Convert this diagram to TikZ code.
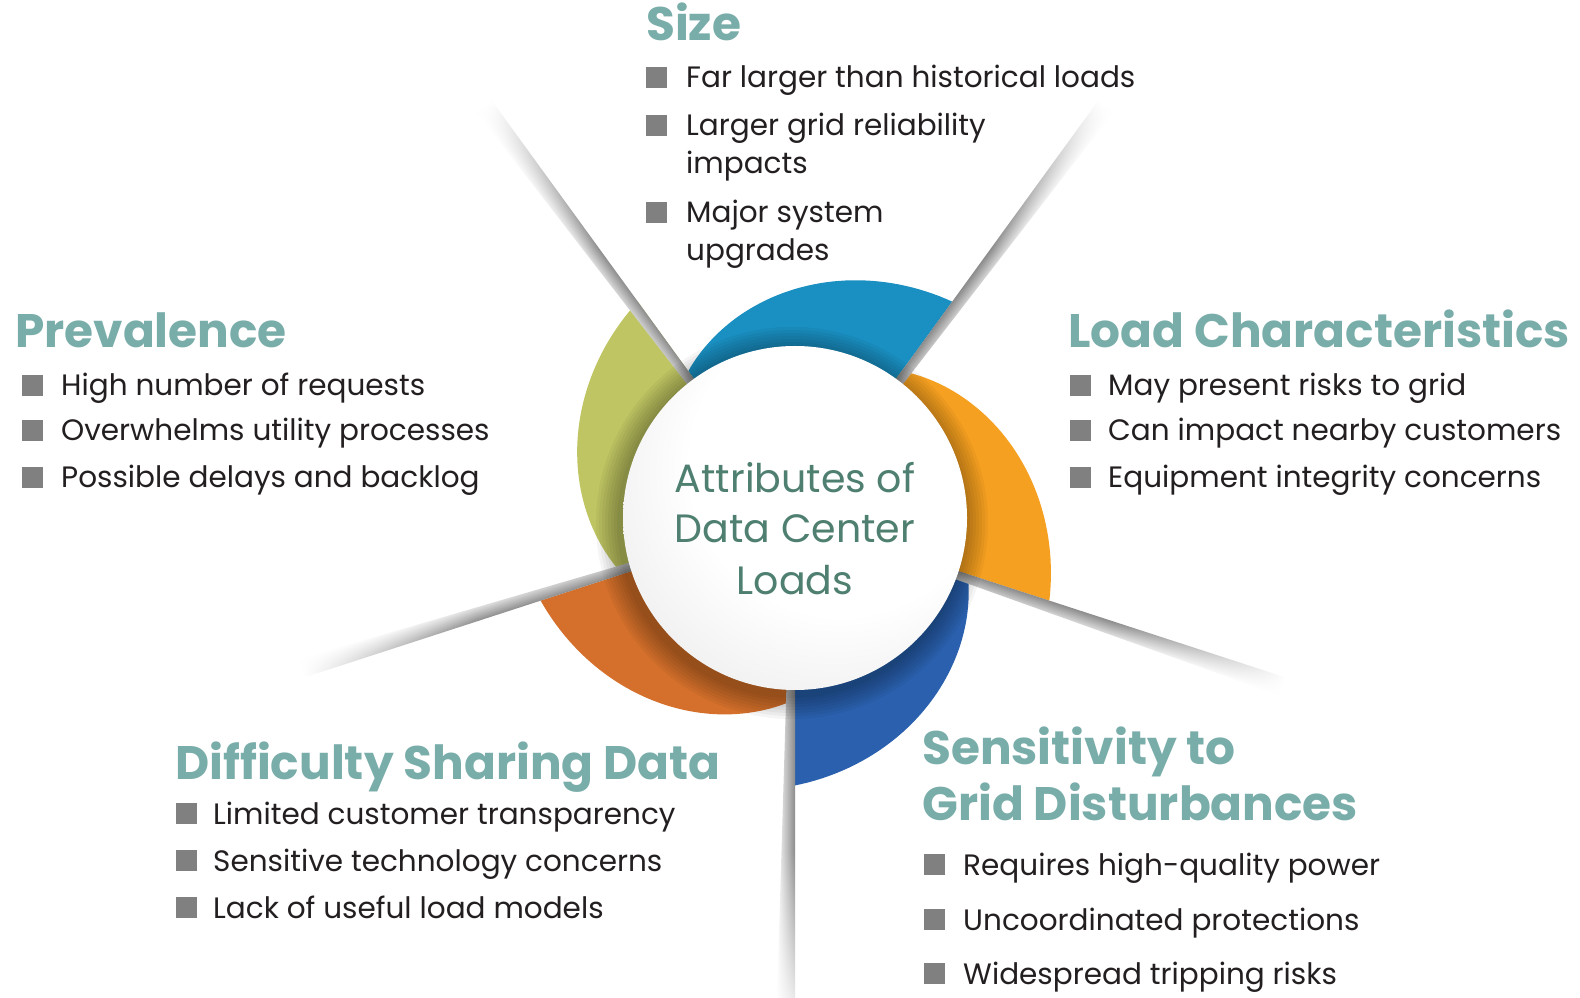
\documentclass[tikz,border=0pt]{standalone}
\usepackage{fontspec}
\setmainfont{Poppins}
\usetikzlibrary{fadings}
\definecolor{headc}{HTML}{79ADA9}
\definecolor{bodyc}{HTML}{231F20}
\definecolor{hubc}{HTML}{4E7F70}
\definecolor{sqc}{HTML}{808080}
\definecolor{segblue}{HTML}{1A8FC1}
\definecolor{seggreen}{HTML}{BFC562}
\definecolor{segred}{HTML}{D4702B}
\definecolor{segdark}{HTML}{2A60AD}
\definecolor{segorange}{HTML}{F5A021}
\tikzfading[name=rayfade, left color=transparent!0, right color=transparent!100, middle color=transparent!0]
\pgfdeclareradialshading{hubshade}{\pgfpoint{12bp}{14bp}}{color(0bp)=(white); color(22bp)=(white); color(50bp)=(black!15)}
\newcommand\headfont{\bfseries\fontsize{47}{52}\selectfont}
\newcommand\bodyfont{\fontsize{29.5}{34}\selectfont}
\newcommand\hubfont{\fontsize{39.5}{46}\selectfont}
\newcommand\drawray[2]{%
  \begin{scope}[transform canvas={shift={(795,479)}, rotate=#1, yscale=#2}]
    \shade[top color=black!45, bottom color=white, path fading=rayfade]
      (150,0) -- (515,0) -- (515,-19) -- (150,-8) -- cycle;
  \end{scope}}
\newcommand\segment[2]{%
  \fill[#2] (#1:150) -- plot[domain=0:72, samples=49]
    ({#1+\x}:{172*(1.555-0.0055*\x-0.018*(\x/30)^2)})
    -- ({#1+72}:150) arc[start angle=#1+72, end angle=#1, radius=150] -- cycle;}
\tikzset{
  head/.style={anchor=base west, inner sep=0pt, text=headc, font=\headfont},
  item/.style={anchor=base west, inner sep=0pt, text=bodyc, font=\bodyfont},
  sq/.style={anchor=south west, fill=sqc, minimum size=21pt, inner sep=0pt, draw=none},
  hubtxt/.style={anchor=base, inner sep=0pt, text=hubc, font=\hubfont},
  hub/.style={circle, minimum size=344pt, inner sep=0pt, shading=hubshade}
}
\begin{document}
\begin{tikzpicture}[x=1pt, y=1pt]
\useasboundingbox (0,0) rectangle (1580,997);
\fill[white] (0,0) rectangle (1580,997);
% coloured segments
\begin{scope}[shift={(795,479)}]
  \segment{54}{segblue}
  \segment{126}{seggreen}
  \segment{198}{segred}
  \segment{270}{segdark}
  \segment{342}{segorange}
\end{scope}
% rays
\drawray{54}{1}
\drawray{126}{-1}
\drawray{198}{1}
\drawray{270}{1}
\drawray{342}{1}
% shadow of the hub
\foreach \k in {1,...,8} {
  \fill[black, opacity=0.04] (792,474) circle ({172+3*\k});
}
% hub
\node[hub] (hub) at (795,479) {};
\node[hubtxt] (hub1) at (795,504) {Attributes of};
\node[hubtxt] (hub2) at (795,454) {Data Center};
\node[hubtxt] (hub3) at (795,402) {Loads};
% Size
\node[head] (sizeh) at (646,956) {Size};
\node[sq] (sizes1) at (646,909) {};
\node[item] (sizet1) at (686,909) {Far larger than historical loads};
\node[sq] (sizes2) at (646,861) {};
\node[item] (sizet2) at (686,861) {Larger grid reliability};
\node[item] (sizet2b) at (686,823) {impacts};
\node[sq] (sizes3) at (646,774) {};
\node[item] (sizet3) at (686,774) {Major system};
\node[item] (sizet3b) at (686,736) {upgrades};
% Prevalence
\node[head] (prevh) at (15,649) {Prevalence};
\node[sq] (prevs1) at (22,601) {};
\node[item] (prevt1) at (61,601) {High number of requests};
\node[sq] (prevs2) at (22,556) {};
\node[item] (prevt2) at (61,556) {Overwhelms utility processes};
\node[sq] (prevs3) at (22,509) {};
\node[item] (prevt3) at (61,509) {Possible delays and backlog};
% Load Characteristics
\node[head] (loadh) at (1068,649) {Load Characteristics};
\node[sq] (loads1) at (1070,601) {};
\node[item] (loadt1) at (1108,601) {May present risks to grid};
\node[sq] (loads2) at (1070,556) {};
\node[item] (loadt2) at (1108,556) {Can impact nearby customers};
\node[sq] (loads3) at (1070,509) {};
\node[item] (loadt3) at (1108,509) {Equipment integrity concerns};
% Difficulty Sharing Data
\node[head] (diffh) at (175,218) {Difficulty Sharing Data};
\node[sq] (diffs1) at (176,173) {};
\node[item] (difft1) at (213,173) {Limited customer transparency};
\node[sq] (diffs2) at (176,126) {};
\node[item] (difft2) at (213,126) {Sensitive technology concerns};
\node[sq] (diffs3) at (176,79) {};
\node[item] (difft3) at (213,79) {Lack of useful load models};
% Sensitivity
\node[head] (sensh1) at (922,233) {Sensitivity to};
\node[head] (sensh2) at (922,177) {Grid Disturbances};
\node[sq] (senss1) at (924,122) {};
\node[item] (senst1) at (963,122) {Requires high-quality power};
\node[sq] (senss2) at (924,67) {};
\node[item] (senst2) at (963,67) {Uncoordinated protections};
\node[sq] (senss3) at (924,13) {};
\node[item] (senst3) at (963,13) {Widespread tripping risks};
\end{tikzpicture}
\end{document}
